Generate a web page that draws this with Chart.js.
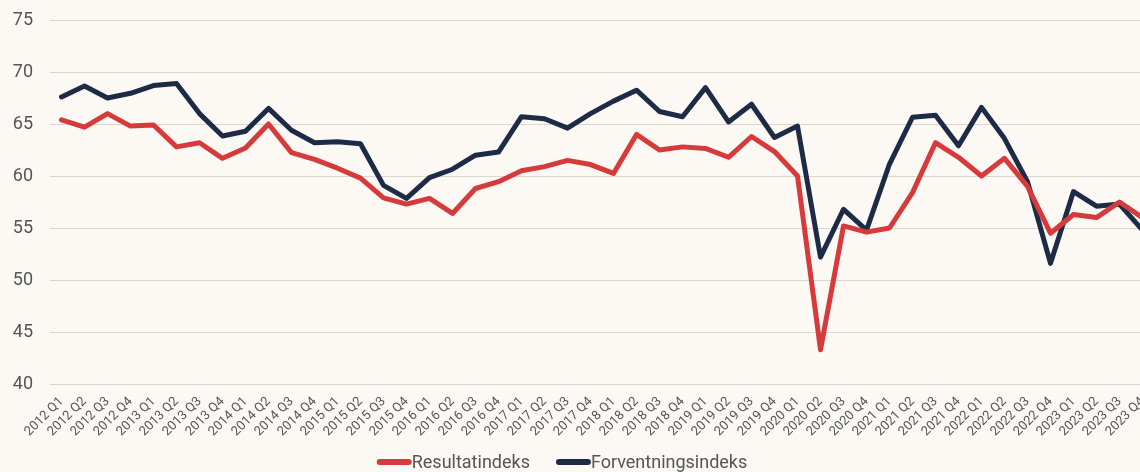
<!DOCTYPE html>
<html>
<head>
<meta charset="utf-8">
<script src="https://cdn.jsdelivr.net/npm/chart.js@4"></script>
<style>
  html, body { margin: 0; padding: 0; background: #FCF9F4; overflow: hidden; }
  #wrap { width: 1154px; height: 472px; position: relative; }
</style>
</head>
<body>
<div id="wrap"><canvas id="c"></canvas></div>
<script>
const years = [2012, 2013, 2014, 2015, 2016, 2017, 2018, 2019, 2020, 2021, 2022, 2023];
const quarters = ["Q1", "Q2", "Q3", "Q4"];
const categories = [];
years.forEach(y => quarters.forEach(q => categories.push(y + " " + q)));

const resultatindeks = [
  65.4, 64.7, 66.0, 64.8, 64.9, 62.8, 63.2, 61.7, 62.7, 65.0, 62.25, 61.6,
  60.75, 59.8, 57.9, 57.3, 57.85, 56.4, 58.8, 59.45, 60.5, 60.9, 61.5, 61.1,
  60.25, 64.0, 62.5, 62.8, 62.65, 61.8, 63.8, 62.35, 60.0, 43.3, 55.2, 54.6,
  55.0, 58.4, 63.2, 61.8, 60.0, 61.7, 59.0, 54.5, 56.3, 56.0, 57.5, 56.0
];
const forventningsindeks = [
  67.6, 68.65, 67.5, 67.95, 68.7, 68.9, 66.0, 63.85, 64.3, 66.5, 64.4, 63.2,
  63.3, 63.1, 59.1, 57.85, 59.85, 60.65, 62.0, 62.3, 65.7, 65.5, 64.6, 66.0,
  67.2, 68.25, 66.2, 65.7, 68.5, 65.2, 66.9, 63.7, 64.8, 52.2, 56.8, 54.8,
  61.15, 65.65, 65.85, 62.9, 66.6, 63.6, 59.45, 51.6, 58.5, 57.1, 57.3, 54.8
];
const yTicks = [40, 45, 50, 55, 60, 65, 70, 75];

const FONT = "Roboto, 'Liberation Sans', sans-serif";
const TEXT = "#555555";

// Custom legend: swatch directly followed by label, centred below the axis
const legendPlugin = {
  id: "flatLegend",
  afterDraw(chart) {
    const ctx = chart.ctx;
    const items = chart.data.datasets.map(d => ({ text: d.label, color: d.borderColor }));
    const sw = 35, gap = 26, cy = 462, centre = 562;
    ctx.save();
    ctx.font = "18px " + FONT;
    const widths = items.map(it => sw + ctx.measureText(it.text).width);
    const total = widths.reduce((a, b) => a + b, 0) + gap * (items.length - 1);
    let x = centre - total / 2;
    items.forEach((it, i) => {
      ctx.strokeStyle = it.color;
      ctx.lineWidth = 6;
      ctx.lineCap = "round";
      ctx.beginPath();
      ctx.moveTo(x + 3, cy);
      ctx.lineTo(x + sw - 3, cy);
      ctx.stroke();
      ctx.fillStyle = TEXT;
      ctx.textBaseline = "middle";
      ctx.textAlign = "left";
      ctx.fillText(it.text, x + sw, cy + 1);
      x += widths[i] + gap;
    });
    ctx.restore();
  }
};

new Chart(document.getElementById("c"), {
  type: "line",
  data: {
    labels: categories,
    datasets: [
      {
        label: "Resultatindeks",
        data: resultatindeks,
        borderColor: "#D63A3A",
        backgroundColor: "#D63A3A",
        borderWidth: 5,
        pointRadius: 0,
        tension: 0,
        borderJoinStyle: "round",
        borderCapStyle: "round"
      },
      {
        label: "Forventningsindeks",
        data: forventningsindeks,
        borderColor: "#1E2B47",
        backgroundColor: "#1E2B47",
        borderWidth: 5,
        pointRadius: 0,
        tension: 0,
        borderJoinStyle: "round",
        borderCapStyle: "round"
      }
    ]
  },
  plugins: [legendPlugin],
  options: {
    responsive: true,
    maintainAspectRatio: false,
    animation: false,
    layout: { padding: { left: 0, right: 0, top: 20, bottom: 28 } },
    scales: {
      x: {
        offset: true,
        grid: { display: false },
        border: { display: false },
        afterFit: axis => { axis.height = 60; axis.paddingLeft = 0; axis.paddingRight = 0; },
        ticks: {
          autoSkip: false,
          minRotation: 45,
          maxRotation: 45,
          color: TEXT,
          padding: 2,
          font: { family: FONT, size: 13 }
        }
      },
      y: {
        min: 40,
        max: 75,
        afterBuildTicks: axis => { axis.ticks = yTicks.map(v => ({ value: v })); },
        afterFit: axis => { axis.width = 50; axis.paddingTop = 0; axis.paddingBottom = 0; },
        grid: { color: "#DAD6D0", lineWidth: 1, drawTicks: false },
        border: { display: false },
        ticks: {
          color: TEXT,
          padding: 17,
          font: { family: FONT, size: 18 }
        }
      }
    },
    plugins: {
      tooltip: { enabled: false },
      legend: { display: false }
    }
  }
});
</script>
</body>
</html>
